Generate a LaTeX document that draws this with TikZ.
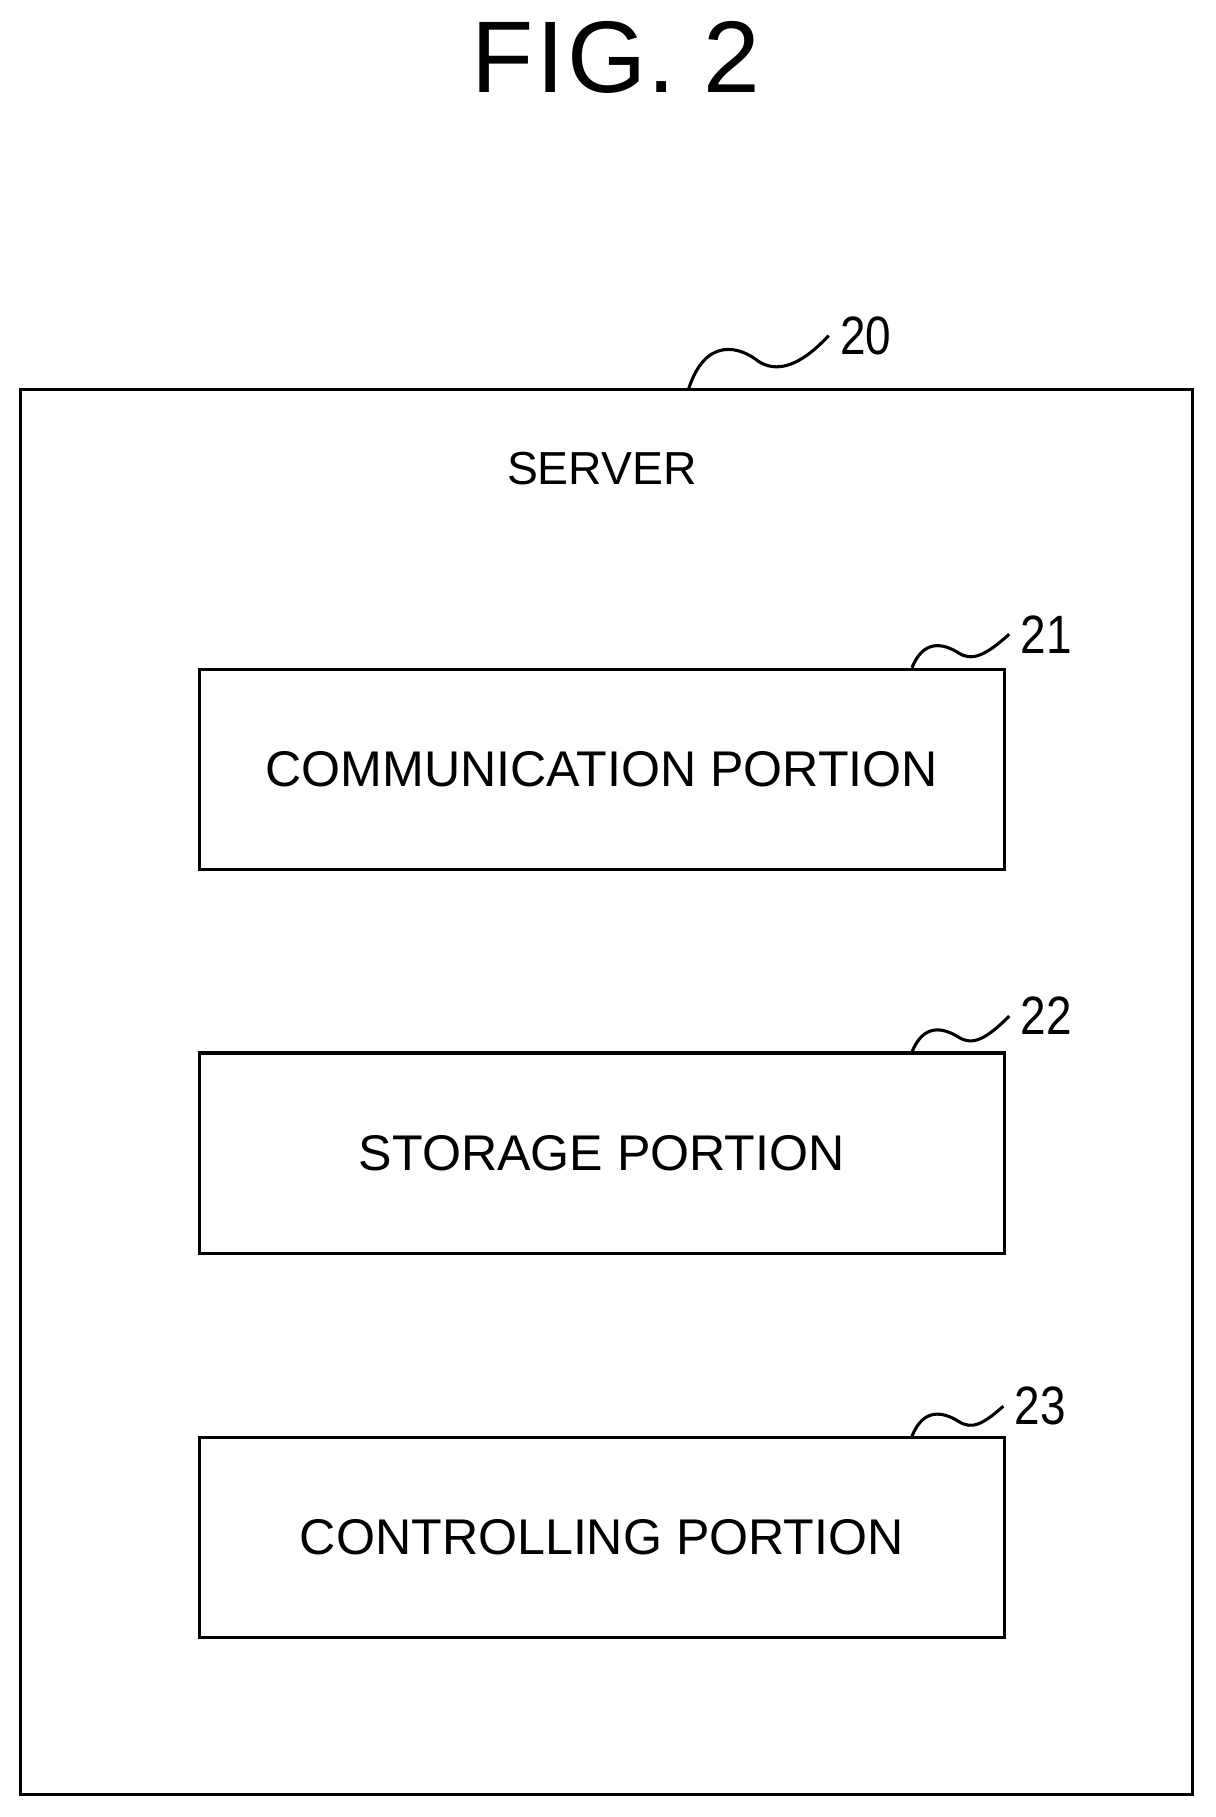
\documentclass[tikz,border=0pt]{standalone}
\usepackage{fontspec}
\setmainfont{Liberation Sans}
\tikzset{every picture/.style={line width=2pt}}
\tikzset{blockbox/.style={draw,minimum width=522pt,minimum height=130pt,inner sep=0pt},
  reflabel/.style={anchor=west,inner sep=0.75pt,font=\fontsize{35}{38}\selectfont,xscale=0.85}}
\begin{document}
\begin{tikzpicture}[x=0.75pt,y=0.75pt,yscale=-1,xscale=1]
    \useasboundingbox (0,0) rectangle (1050,1570);

    % Title
    \node (title) at (532,50) {\fontsize{66}{72}\selectfont F\kern2pt I\kern2pt G.\ 2};

    % Server frame
    \node (server) [draw,minimum width=759pt,minimum height=910pt,inner sep=0pt] at (524,943.5) {};
    \node (servertext) at (520,405) {\fontsize{30}{32}\selectfont SERVER};

    % Blocks
    \node (comm) [blockbox] at (520,665) {\fontsize{32.5}{34}\selectfont COMMUNICATION PORTION};
    \node (stor) [blockbox] at (520,996.5) {\fontsize{32.5}{34}\selectfont STORAGE PORTION};
    \node (ctrl) [blockbox] at (520,1328.5) {\fontsize{32.5}{34}\selectfont CONTROLLING PORTION};

    % Reference numerals
    \node (n20) [reflabel] at (724,290) {20};
    \node (n21) [reflabel] at (880,548) {21};
    \node (n22) [reflabel] at (880,878) {22};
    \node (n23) [reflabel] at (875,1215) {23};

    % Leader squiggles
    \draw (595,336) .. controls (610,290) and (640,300) .. (655,312) .. controls (670,322) and (690,318) .. ([xshift=-6pt]n20.west);
    \draw (788,577) .. controls (798,552) and (815,556) .. (828,564) .. controls (840,572) and (852,566) .. ([xshift=-6pt]n21.west);
    \draw (788,909) .. controls (798,884) and (815,888) .. (828,896) .. controls (840,904) and (852,898) .. ([xshift=-6pt]n22.west);
    \draw (788,1241) .. controls (798,1216) and (815,1220) .. (828,1228) .. controls (840,1236) and (850,1230) .. ([xshift=-6pt]n23.west);
\end{tikzpicture}
\end{document}
